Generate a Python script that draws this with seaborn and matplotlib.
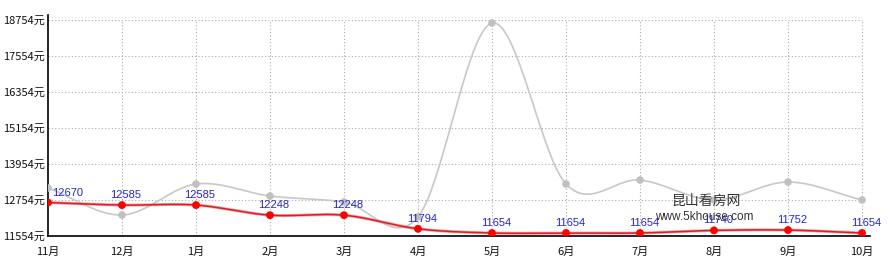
import numpy as np
import matplotlib
matplotlib.use("Agg")
import matplotlib.pyplot as plt
import seaborn as sns
import pandas as pd

months = ["11月", "12月", "1月", "2月", "3月", "4月", "5月", "6月", "7月", "8月", "9月", "10月"]
red_values = [12670, 12585, 12585, 12248, 12248, 11794, 11654, 11654, 11654, 11740, 11752, 11654]
gray_values = [13154, 12254, 13287, 12887, 12687, 12187, 18654, 13287, 13420, 12754, 13354, 12754]
y_ticks = [11554, 12754, 13954, 15154, 16354, 17554, 18754]
y_tick_labels = [f"{v}元" for v in y_ticks]

sns.set_theme(style="white")
plt.rcParams['font.family'] = ['Noto Sans CJK SC', 'DejaVu Sans']


def catmull_rom(x, y, n=30):
    x = np.asarray(x, float)
    y = np.asarray(y, float)
    px = np.concatenate([[2 * x[0] - x[1]], x, [2 * x[-1] - x[-2]]])
    py = np.concatenate([[2 * y[0] - y[1]], y, [2 * y[-1] - y[-2]]])
    xs, ys = [], []
    t = np.linspace(0, 1, n)
    for i in range(1, len(px) - 2):
        for arr, out in ((px, xs), (py, ys)):
            p0, p1, p2, p3 = arr[i - 1], arr[i], arr[i + 1], arr[i + 2]
            out.append(0.5 * ((2 * p1) + (-p0 + p2) * t + (2 * p0 - 5 * p1 + 4 * p2 - p3) * t ** 2
                              + (-p0 + 3 * p1 - 3 * p2 + p3) * t ** 3))
    return np.concatenate(xs), np.concatenate(ys)


df = pd.DataFrame({"idx": np.arange(len(months)), "red": red_values, "gray": gray_values})

fig = plt.figure(figsize=(8.92, 2.70), dpi=100)
ax = fig.add_axes([48 / 892, 34 / 270, (870 - 48) / 892, (236 - 15) / 270])

upp = 7200 / 216  # value units per pixel
ymin = 11554
ymax = 11554 + 221 * upp
ax.set_ylim(ymin, ymax)
ax.set_xlim(0, 11 + 8 / 74)

# grid
for v in y_ticks[1:]:
    ax.plot([0, 11], [v, v], color="#aaaaaa", lw=0.8, ls=(0, (1, 2)), zorder=1)
for i in range(1, len(months)):
    ax.plot([i, i], [ymin, y_ticks[-1]], color="#aaaaaa", lw=0.8, ls=(0, (1, 2)), zorder=1)
ax.plot([0, 11], [ymin + 219 * upp] * 2, color="#e0e0e0", lw=0.8, ls=(0, (1, 2)), zorder=1)

gx, gy = catmull_rom(df["idx"], df["gray"])
ax.plot(gx, gy, color="#c8c8c8", lw=1.2, zorder=2)
sns.scatterplot(data=df, x="idx", y="gray", color="#c0c0c0", s=30, edgecolor="none", ax=ax, zorder=3)

rx, ry = catmull_rom(df["idx"], df["red"])
ax.plot(rx, ry, color="#f08080", lw=2.2, alpha=0.7, zorder=4)
ax.plot(rx, ry, color="#d81e28", lw=1.1, zorder=4)
sns.scatterplot(data=df, x="idx", y="red", color="#ff0000", s=32, edgecolor="none", ax=ax, zorder=5)

for i, v in enumerate(red_values):
    if i == 0:
        ax.text(i + 4 / 74, v + 5 * upp, str(v), color="#2626c8", fontsize=8,
                ha="left", va="bottom", family="Liberation Sans", zorder=6)
    else:
        ax.text(i + 4 / 74, v + 5 * upp, str(v), color="#2626c8", fontsize=8,
                ha="center", va="bottom", family="Liberation Sans", zorder=6)

# watermark
ax.text(8.9, 12720, "昆山看房网", color="#333333", fontsize=10, ha="center", va="center", zorder=7)
ax.text(8.87, 12200, "www.5khouse.com", color="#333333", fontsize=8.5, ha="center", va="center",
        family="Liberation Sans", zorder=7)

ax.set_xticks(range(len(months)))
ax.set_xticklabels(months)
ax.set_yticks(y_ticks)
ax.set_yticklabels(y_tick_labels)
ax.tick_params(axis="y", length=0, labelsize=8, colors="#111111", pad=2)
ax.tick_params(axis="x", length=0, labelsize=8, colors="#111111", pad=7.5)
ax.set_xlabel("")
ax.set_ylabel("")

for s in ["top", "right"]:
    ax.spines[s].set_visible(False)
for s in ["left", "bottom"]:
    ax.spines[s].set_color("black")
    ax.spines[s].set_linewidth(1.2)

fig.savefig("out.png", dpi=100, facecolor="white")
